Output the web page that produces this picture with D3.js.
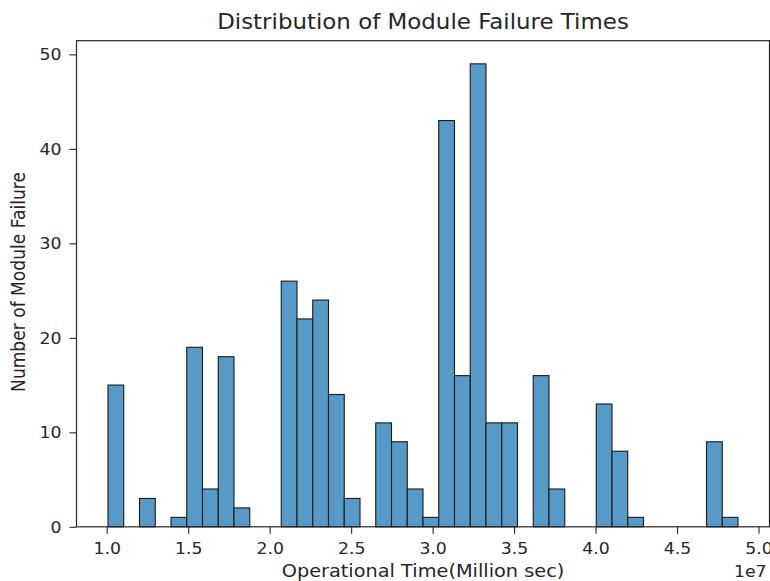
<!DOCTYPE html>
<html>
<head>
<meta charset="utf-8">
<script src="https://cdn.jsdelivr.net/npm/d3@7"></script>
<style>
  html, body { margin: 0; padding: 0; background: #fff; }
  svg { display: block; }
  text { font-family: "DejaVu Sans", sans-serif; fill: #262626; }
</style>
</head>
<body>
<svg id="chart" width="770" height="581"></svg>
<script>
// Histogram of operational time until module failure (seconds), 40 equal bins
const timeMin = 1.008e7;
const timeMax = 4.874e7;
const binCount = 40;
const failureCounts = [
  15, 0, 3, 0, 1, 19, 4, 18, 2, 0,
  0, 26, 22, 24, 14, 3, 0, 11, 9, 4,
  1, 43, 16, 49, 11, 11, 0, 16, 4, 0,
  0, 13, 8, 1, 0, 0, 0, 0, 9, 1
];
const xTickValues = [1.0e7, 1.5e7, 2.0e7, 2.5e7, 3.0e7, 3.5e7, 4.0e7, 4.5e7, 5.0e7];
const yTickValues = [0, 10, 20, 30, 40, 50];

const titleText = "Distribution of Module Failure Times";
const xLabelText = "Operational Time(Million sec)";
const yLabelText = "Number of Module Failure";

const svg = d3.select("#chart");
const plot = { left: 76.5, right: 769.5, top: 40.7, bottom: 526.8 };
const stretch = 1.13;   // glyphs are drawn slightly wide
const tickFont = 15.3, labelFont = 17.1, titleFont = 20.3;

const binWidth = (timeMax - timeMin) / binCount;
const bins = failureCounts.map((c, i) => ({
  x0: timeMin + i * binWidth,
  x1: timeMin + (i + 1) * binWidth,
  count: c
}));

const pad = 0.05 * (timeMax - timeMin);
const x = d3.scaleLinear()
  .domain([timeMin - pad, timeMax + pad])
  .range([plot.left, plot.right]);
const y = d3.scaleLinear()
  .domain([0, d3.max(failureCounts) * 1.05])
  .range([plot.bottom, plot.top]);

// bars
svg.append("g")
  .selectAll("rect")
  .data(bins.filter(b => b.count > 0))
  .join("rect")
  .attr("x", d => x(d.x0))
  .attr("y", d => y(d.count))
  .attr("width", d => x(d.x1) - x(d.x0))
  .attr("height", d => y(0) - y(d.count))
  .attr("fill", "#5799c7")
  .attr("stroke", "#1a1a1a")
  .attr("stroke-width", 1.1);

// axes
const xAxis = d3.axisBottom(x)
  .tickValues(xTickValues)
  .tickFormat(v => (v / 1e7).toFixed(1))
  .tickSizeOuter(0)
  .tickSize(7);
const yAxis = d3.axisLeft(y)
  .tickValues(yTickValues)
  .tickFormat(d3.format("d"))
  .tickSizeOuter(0)
  .tickSize(7);

const gx = svg.append("g")
  .attr("transform", `translate(0,${plot.bottom})`)
  .call(xAxis);
const gy = svg.append("g")
  .attr("transform", `translate(${plot.left},0)`)
  .call(yAxis);

[gx, gy].forEach(g => {
  g.select(".domain").remove();
  g.selectAll(".tick line").attr("stroke", "#262626").attr("stroke-width", 1.1);
  g.selectAll(".tick text")
    .attr("font-size", tickFont)
    .style("fill", "#262626");
});
gx.selectAll(".tick text")
  .attr("y", null).attr("dy", null)
  .attr("transform", `translate(0,27.6) scale(${stretch},1)`);
gy.selectAll(".tick text")
  .attr("x", null)
  .attr("dy", "0.34em")
  .attr("transform", `translate(-15,0) scale(${stretch},1)`);

// frame
svg.append("rect")
  .attr("x", plot.left)
  .attr("y", plot.top)
  .attr("width", plot.right - plot.left)
  .attr("height", plot.bottom - plot.top)
  .attr("fill", "none")
  .attr("stroke", "#262626")
  .attr("stroke-width", 1.2);

// offset label for the x scale
svg.append("text")
  .attr("transform", `translate(${plot.right - 3},577) scale(${stretch},1)`)
  .attr("text-anchor", "end")
  .attr("font-size", tickFont)
  .text("1e7");

// title and axis labels
const cx = (plot.left + plot.right) / 2;
svg.append("text")
  .attr("transform", `translate(${cx},29) scale(${stretch},1)`)
  .attr("text-anchor", "middle")
  .attr("font-size", titleFont)
  .text(titleText);

svg.append("text")
  .attr("transform", `translate(${cx},577) scale(${stretch},1)`)
  .attr("text-anchor", "middle")
  .attr("font-size", labelFont)
  .text(xLabelText);

svg.append("text")
  .attr("transform", `translate(25,282) scale(${stretch},1) rotate(-90)`)
  .attr("text-anchor", "middle")
  .attr("font-size", labelFont)
  .text(yLabelText);
</script>
</body>
</html>
